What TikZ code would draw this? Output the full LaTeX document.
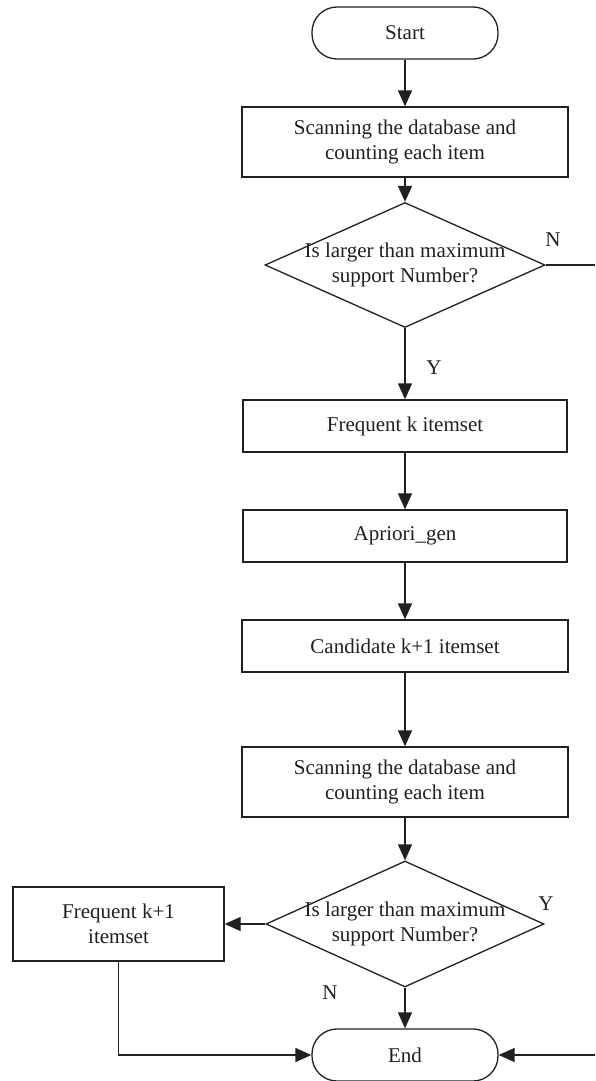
\documentclass[tikz,border=0pt]{standalone}
\usepackage{fontspec}
\setmainfont{Liberation Serif}
\usetikzlibrary{shapes.geometric,arrows.meta}
\definecolor{ink}{RGB}{35,31,32}
\begin{document}
\begin{tikzpicture}[x=1pt,y=-1pt,
  every node/.style={font=\fontsize{21}{25}\selectfont, text=ink, align=center},
  stepbox/.style={draw=ink, line width=1.3pt, rectangle, inner sep=0pt},
  terminal/.style={draw=ink, line width=1.3pt, rectangle, rounded corners=25pt,
                   minimum width=186pt, minimum height=52pt, inner sep=0pt},
  decision/.style={draw=ink, line width=1.3pt, diamond, inner sep=0pt,
                   minimum width=280pt, minimum height=125pt},
  flow/.style={draw=ink, line width=1.3pt, -{Triangle[length=16pt,width=14pt]}},
  plain/.style={draw=ink, line width=1.3pt},
  tag/.style={font=\fontsize{21}{25}\selectfont}
]
\useasboundingbox (0,0) rectangle (595,1081);

% main column
\node[terminal] (start) at (405,33) {Start};
\node[stepbox, minimum width=326pt, minimum height=70pt] (scan1) at (405,142)
  {Scanning the database and\\counting each item};
\node[decision] (dec1) at (405,265) {};
\node (dec1t) at (405,265) {Is larger than maximum\\support Number?};
\node[stepbox, minimum width=324pt, minimum height=52pt] (freqk) at (405,426) {Frequent k itemset};
\node[stepbox, minimum width=324pt, minimum height=52pt] (gen) at (405,536) {Apriori\_gen};
\node[stepbox, minimum width=326pt, minimum height=52pt] (cand) at (405,646) {Candidate k+1 itemset};
\node[stepbox, minimum width=326pt, minimum height=70pt] (scan2) at (405,782)
  {Scanning the database and\\counting each item};
\node[decision, minimum width=278pt, minimum height=126pt] (dec2) at (405,924) {};
\node (dec2t) at (405,924) {Is larger than maximum\\support Number?};
\node[terminal] (end) at (405,1055) {End};

% side box
\node[stepbox, minimum width=211pt, minimum height=74pt] (freqk1) at (118.5,924)
  {Frequent k+1\\itemset};

% loose ends running off the right edge
\coordinate (nout) at (595,265);
\coordinate (rin) at (595,1055);

% connectors
\draw[flow] (start) -- (scan1);
\draw[flow] (scan1) -- (dec1.north);
\draw[plain] (dec1.east) -- (nout);
\draw[flow] (dec1.south) -- (freqk);
\draw[flow] (freqk) -- (gen);
\draw[flow] (gen) -- (cand);
\draw[flow] (cand) -- (scan2);
\draw[flow] (scan2) -- (dec2.north);
\draw[flow] (dec2.west) -- (freqk1);
\draw[flow] (dec2.south) -- (end);
\draw[flow] (freqk1.south) |- (end.west);
\draw[flow] (rin) -- (end.east);

% branch labels
\node[tag] (n1) at (553,240) {N};
\node[tag] (y1) at (434,368) {Y};
\node[tag] (y2) at (546,904) {Y};
\node[tag] (n2) at (330,993) {N};
\end{tikzpicture}
\end{document}
